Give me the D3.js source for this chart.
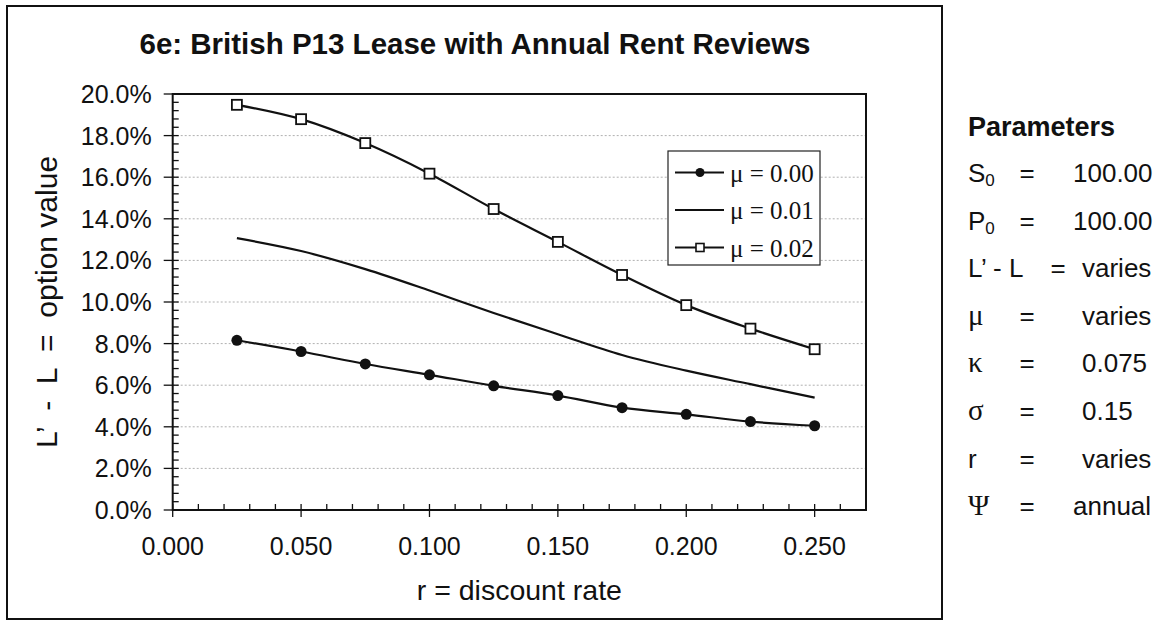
<!DOCTYPE html>
<html>
<head>
<meta charset="utf-8">
<script src="https://cdn.jsdelivr.net/npm/d3@7"></script>
<style>
  body { margin: 0; background: #fff; }
  svg { display: block; }
  text { font-family: "Liberation Sans", Arial, Helvetica, sans-serif; fill: #111; }
  .serif { font-family: "Liberation Serif", "Times New Roman", serif; }
</style>
</head>
<body>
<svg id="chart" width="1157" height="622"></svg>
<script>
// discount rate r (x values)
var rates = [0.025, 0.050, 0.075, 0.100, 0.125, 0.150, 0.175, 0.200, 0.225, 0.250];
// option value L' - L, in percent
var mu000 = [8.16, 7.62, 7.02, 6.50, 5.97, 5.50, 4.92, 4.60, 4.25, 4.05];
var mu001 = [13.07, 12.45, 11.58, 10.55, 9.47, 8.45, 7.45, 6.70, 6.05, 5.40];
var mu002 = [19.48, 18.79, 17.64, 16.17, 14.47, 12.89, 11.30, 9.85, 8.72, 7.73];
var seriesNames = ["\u03bc = 0.00", "\u03bc = 0.01", "\u03bc = 0.02"];

var xTicks = [0, 0.05, 0.10, 0.15, 0.20, 0.25];
var yTicks = [0, 2, 4, 6, 8, 10, 12, 14, 16, 18, 20];

var paramSymbols = ["S", "P", "L\u2019 - L", "\u03bc", "\u03ba", "\u03c3", "r", "\u03a8"];
var paramValues = ["100.00", "100.00", "varies", "varies", "0.075", "0.15", "varies", "annual"];

var svg = d3.select("#chart");

var plotLeft = 172.7, plotRight = 866, plotTop = 94, plotBottom = 510;

var x = d3.scaleLinear().domain([0, 0.27]).range([plotLeft, plotRight]);
var y = d3.scaleLinear().domain([0, 20]).range([plotBottom, plotTop]);

// outer frame
svg.append("rect")
  .attr("x", 7).attr("y", 6).attr("width", 935).attr("height", 613)
  .attr("fill", "none").attr("stroke", "#111").attr("stroke-width", 2);

svg.append("text")
  .attr("x", 475).attr("y", 54)
  .attr("text-anchor", "middle")
  .style("font-size", "29.5px").style("font-weight", "bold")
  .text("6e: British P13 Lease with Annual Rent Reviews");

// gridlines
svg.append("g").selectAll("line")
  .data(yTicks.filter(function(d) { return d > 0 && d < 20; }))
  .enter().append("line")
  .attr("x1", plotLeft).attr("x2", plotRight)
  .attr("y1", function(d) { return y(d); }).attr("y2", function(d) { return y(d); })
  .attr("stroke", "#b0b0b0").attr("stroke-width", 1).attr("stroke-dasharray", "2,2");

// plot box
svg.append("rect")
  .attr("x", plotLeft).attr("y", plotTop)
  .attr("width", plotRight - plotLeft).attr("height", plotBottom - plotTop)
  .attr("fill", "none").attr("stroke", "#111").attr("stroke-width", 2);

// y axis ticks: major every 2%, minor every 0.4%
var yMinor = d3.range(0, 20.001, 0.4);
svg.append("g").selectAll("line")
  .data(yMinor)
  .enter().append("line")
  .attr("x1", function(d, i) { return i % 5 === 0 ? plotLeft - 9 : plotLeft; })
  .attr("x2", plotLeft + 6)
  .attr("y1", function(d) { return y(d); }).attr("y2", function(d) { return y(d); })
  .attr("stroke", "#111").attr("stroke-width", 1.3);

svg.append("g").selectAll("text")
  .data(yTicks)
  .enter().append("text")
  .attr("x", plotLeft - 21).attr("y", function(d) { return y(d); })
  .attr("dy", "0.36em")
  .attr("text-anchor", "end")
  .style("font-size", "25px")
  .text(function(d) { return d.toFixed(1) + "%"; });

// x axis ticks: major every 0.05, minor every 0.01
var xMinor = d3.range(0, 0.2701, 0.01);
svg.append("g").selectAll("line")
  .data(xMinor)
  .enter().append("line")
  .attr("x1", function(d) { return x(d); }).attr("x2", function(d) { return x(d); })
  .attr("y1", plotBottom - 6)
  .attr("y2", function(d, i) { return i % 5 === 0 ? plotBottom + 7 : plotBottom; })
  .attr("stroke", "#111").attr("stroke-width", 1.3);

svg.append("g").selectAll("text")
  .data(xTicks)
  .enter().append("text")
  .attr("x", function(d) { return x(d); }).attr("y", 555)
  .attr("text-anchor", "middle")
  .style("font-size", "25px")
  .text(function(d) { return d.toFixed(3); });

svg.append("text")
  .attr("x", (plotLeft + plotRight) / 2).attr("y", 600)
  .attr("text-anchor", "middle")
  .style("font-size", "28.5px")
  .text("r = discount rate");

svg.append("text")
  .attr("transform", "translate(57," + ((plotTop + plotBottom) / 2) + ") rotate(-90)")
  .attr("text-anchor", "middle")
  .attr("xml:space", "preserve")
  .style("font-size", "30px")
  .style("white-space", "pre")
  .text("L\u2019  -  L  =  option value");

// series
var line = d3.line()
  .x(function(d) { return x(d[0]); })
  .y(function(d) { return y(d[1]); })
  .curve(d3.curveCardinal.tension(0));

var allSeries = [mu000, mu001, mu002];
var lines = svg.append("g");
allSeries.forEach(function(vals) {
  lines.append("path")
    .datum(d3.zip(rates, vals))
    .attr("d", line)
    .attr("fill", "none").attr("stroke", "#111").attr("stroke-width", 2.2);
});

svg.append("g").selectAll("circle")
  .data(d3.zip(rates, mu000))
  .enter().append("circle")
  .attr("cx", function(d) { return x(d[0]); })
  .attr("cy", function(d) { return y(d[1]); })
  .attr("r", 5.5).attr("fill", "#111");

svg.append("g").selectAll("rect")
  .data(d3.zip(rates, mu002))
  .enter().append("rect")
  .attr("x", function(d) { return x(d[0]) - 5; })
  .attr("y", function(d) { return y(d[1]) - 5; })
  .attr("width", 10).attr("height", 10)
  .attr("fill", "#fff").attr("stroke", "#111").attr("stroke-width", 1.8);

// legend
var legend = svg.append("g");
legend.append("rect")
  .attr("x", 668).attr("y", 151).attr("width", 152).attr("height", 114)
  .attr("fill", "#fff").attr("stroke", "#222").attr("stroke-width", 1.2);

seriesNames.forEach(function(name, i) {
  var ly = 172.5 + i * 37.5;
  legend.append("line")
    .attr("x1", 675).attr("x2", 724).attr("y1", ly).attr("y2", ly)
    .attr("stroke", "#111").attr("stroke-width", 2);
  if (i === 0) {
    legend.append("circle").attr("cx", 700).attr("cy", ly).attr("r", 4.5).attr("fill", "#111");
  } else if (i === 2) {
    legend.append("rect").attr("x", 696).attr("y", ly - 4).attr("width", 8).attr("height", 8)
      .attr("fill", "#fff").attr("stroke", "#111").attr("stroke-width", 1.6);
  }
  legend.append("text")
    .attr("class", "serif")
    .attr("x", 730).attr("y", ly + 9)
    .style("font-size", "25px")
    .text(name);
});

// parameters panel
var params = svg.append("g");
params.append("text")
  .attr("x", 968).attr("y", 136)
  .style("font-size", "27px").style("font-weight", "bold")
  .text("Parameters");

var greek = [false, false, false, true, true, true, false, true];
var eqX = [1027, 1027, 1058, 1027, 1027, 1027, 1027, 1027];
var valX = [1073, 1073, 1082, 1082, 1082, 1082, 1082, 1073];

paramSymbols.forEach(function(sym, i) {
  var py = 182 + i * 47.6;
  var t = params.append("text")
    .attr("x", 968).attr("y", py)
    .style("font-size", greek[i] ? "29px" : "26px");
  if (greek[i]) t.attr("class", "serif");
  t.append("tspan").text(sym);
  if (i < 2) {
    t.append("tspan").attr("dy", 4).style("font-size", "17px").text("0");
  }
  params.append("text")
    .attr("x", eqX[i]).attr("y", py)
    .attr("text-anchor", "middle")
    .style("font-size", "26px")
    .text("=");
  params.append("text")
    .attr("x", valX[i]).attr("y", py)
    .style("font-size", "26px")
    .text(paramValues[i]);
});
</script>
</body>
</html>
